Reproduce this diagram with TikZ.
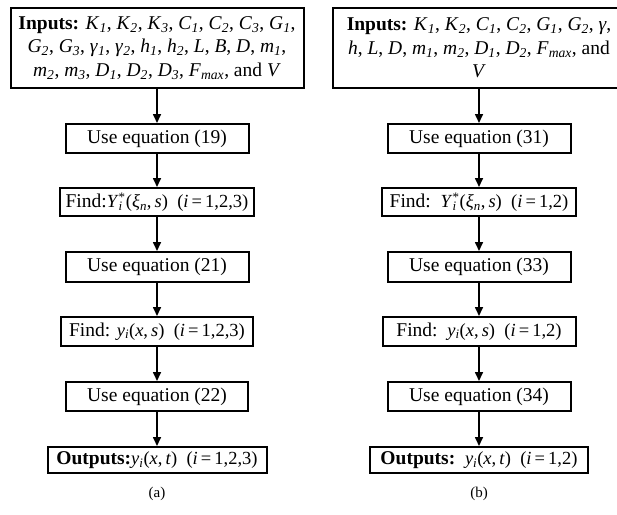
\documentclass[tikz,border=0pt]{standalone}
\usepackage{fontspec}
\setmainfont{Liberation Serif}
\usetikzlibrary{arrows.meta}

\newcommand\mi[1]{\textit{#1}}
\newcommand\ms[2]{\textit{#1}\textsubscript{\textit{#2}}}
\newcommand\eqf{\fontsize{18.5}{21}\selectfont}
\newcommand\Yst{\mi{Y}\rlap{\textsuperscript{*}}\textsubscript{\mi{i}}\,(\ms{ξ}{n},\,\mi{s})}

\tikzset{
  box/.style={draw, line width=2pt, inner sep=0pt, align=center,
    font=\fontsize{19.5}{23.5}\selectfont},
  subcap/.style={font=\fontsize{15}{18}\selectfont}
}

\begin{document}
\begin{tikzpicture}[->, >={Triangle[length=9pt,width=8pt]}, line width=1.6pt, x=1pt, y=-1pt]
   \useasboundingbox (0,0) rectangle (617,514);
   \clip (0,0) rectangle (617,514);

   % (a)
   \node[box, minimum width=293pt, minimum height=80pt] (a0) at (157,48)
     {\textbf{Inputs:} \ms{K}{1}, \ms{K}{2}, \ms{K}{3}, \ms{C}{1}, \ms{C}{2}, \ms{C}{3}, \ms{G}{1},\\
      \ms{G}{2}, \ms{G}{3}, \ms{γ}{1}, \ms{γ}{2}, \ms{h}{1}, \ms{h}{2}, \mi{L}, \mi{B}, \mi{D}, \ms{m}{1},\\
      \ms{m}{2}, \ms{m}{3}, \ms{D}{1}, \ms{D}{2}, \ms{D}{3}, \ms{F}{max}, and \mi{V}};
   \node[box, minimum width=183pt, minimum height=29pt] (a1) at (157,138.5) {Use equation (19)};
   \node[box, minimum width=194pt, minimum height=28pt] (a2) at (157,202)
     {Find:{\eqf\Yst\enspace(\mi{i}\,=\,1,2,3)}};
   \node[box, minimum width=183pt, minimum height=30pt] (a3) at (157,267) {Use equation (21)};
   \node[box, minimum width=192pt, minimum height=29pt] (a4) at (157,331.5)
     {Find: {\eqf\ms{y}{i}(\mi{x},\,\mi{s})\enspace(\mi{i}\,=\,1,2,3)}};
   \node[box, minimum width=182pt, minimum height=29pt] (a5) at (157,396.5) {Use equation (22)};
   \node[box, minimum width=219pt, minimum height=26pt] (a6) at (157,460)
     {\textbf{Outputs:}{\eqf\ms{y}{i}(\mi{x},\,\mi{t})\enspace(\mi{i}\,=\,1,2,3)}};
   \node[subcap] (ca) at (157,494) {(a)};

   % (b)
   \node[box, minimum width=292pt, minimum height=80pt] (b0) at (479,48)
     {\textbf{Inputs:} \ms{K}{1}, \ms{K}{2}, \ms{C}{1}, \ms{C}{2}, \ms{G}{1}, \ms{G}{2}, \mi{γ},\\
      \mi{h}, \mi{L}, \mi{D}, \ms{m}{1}, \ms{m}{2}, \ms{D}{1}, \ms{D}{2}, \ms{F}{max}, and\\
      \mi{V}};
   \node[box, minimum width=183pt, minimum height=29pt] (b1) at (479,138.5) {Use equation (31)};
   \node[box, minimum width=194pt, minimum height=28pt] (b2) at (479,202)
     {Find:\enspace{\eqf\Yst\enspace(\mi{i}\,=\,1,2)}};
   \node[box, minimum width=183pt, minimum height=30pt] (b3) at (479,267) {Use equation (33)};
   \node[box, minimum width=193pt, minimum height=29pt] (b4) at (479,331.5)
     {Find:\enspace{\eqf\ms{y}{i}(\mi{x},\,\mi{s})\enspace(\mi{i}\,=\,1,2)}};
   \node[box, minimum width=183pt, minimum height=29pt] (b5) at (479,396.5) {Use equation (34)};
   \node[box, minimum width=218pt, minimum height=26pt] (b6) at (479,460)
     {\textbf{Outputs:}\enspace{\eqf\ms{y}{i}(\mi{x},\,\mi{t})\enspace(\mi{i}\,=\,1,2)}};
   \node[subcap] (cb) at (479,494) {(b)};

   \path (a0) edge (a1);
   \path (a1) edge (a2);
   \path (a2) edge (a3);
   \path (a3) edge (a4);
   \path (a4) edge (a5);
   \path (a5) edge (a6);

   \path (b0) edge (b1);
   \path (b1) edge (b2);
   \path (b2) edge (b3);
   \path (b3) edge (b4);
   \path (b4) edge (b5);
   \path (b5) edge (b6);

\end{tikzpicture}
\end{document}
